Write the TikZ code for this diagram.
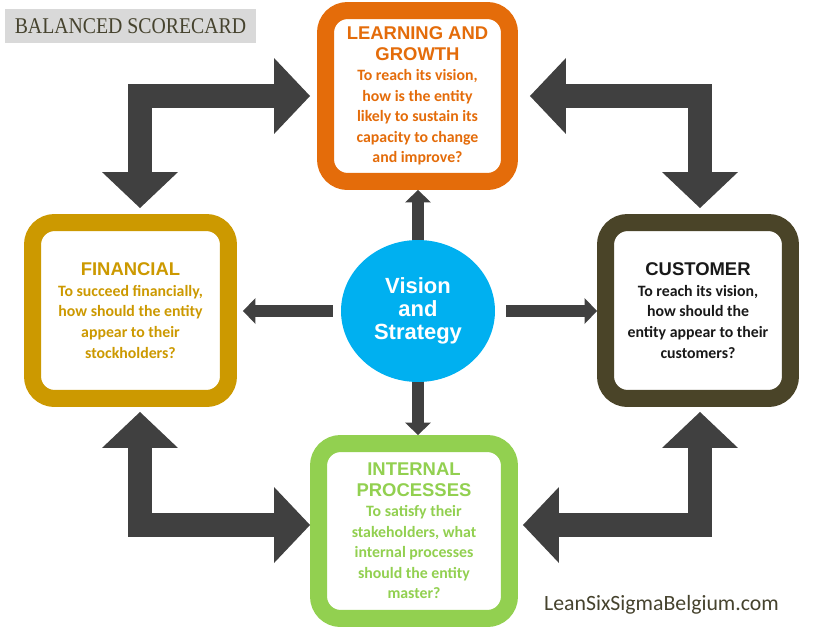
\documentclass[tikz,border=0pt]{standalone}
\usepackage{fontspec}
\newfontfamily\headfont{Liberation Sans}
\newfontfamily\bodyfont{Carlito}
\newfontfamily\bannerfont[FakeStretch=0.88]{Liberation Serif}
\usetikzlibrary{arrows.meta,shapes.geometric}
\definecolor{learnorange}{HTML}{E46C0A}
\definecolor{custolive}{HTML}{4A4428}
\definecolor{fingold}{HTML}{CC9900}
\definecolor{procgreen}{HTML}{92D050}
\definecolor{visblue}{HTML}{00B0F0}
\definecolor{arrowgray}{HTML}{404040}
\definecolor{inkolive}{HTML}{46432E}
\newcommand{\cardhead}[1]{{\headfont\bfseries\fontsize{10.5}{11.7}\selectfont #1}}
\tikzset{
  card/.style={rectangle, draw, line width=0.34cm, rounded corners=0.44cm, align=center, inner sep=0pt,
    font=\bodyfont\bfseries\fontsize{9}{11.7}\selectfont},
  learnc/.style={card, draw=learnorange, text=learnorange, minimum width=3.68cm, minimum height=3.42cm},
  custc/.style={card, draw=custolive, text=black!90, minimum width=3.70cm, minimum height=3.52cm},
  finc/.style={card, draw=fingold, text=fingold, minimum width=3.92cm, minimum height=3.52cm},
  procc/.style={card, draw=procgreen, text=procgreen, minimum width=3.82cm, minimum height=3.50cm},
  vision/.style={ellipse, fill=visblue, text=white, minimum width=3.08cm, minimum height=2.84cm, inner sep=0pt,
    align=center, font=\headfont\bfseries\fontsize{12.5}{13}\selectfont},
  bigarrow/.style={draw=arrowgray, line width=0.48cm,
    {Triangle[length=0.72cm,width=1.52cm,line width=0pt]}-{Triangle[length=0.72cm,width=1.52cm,line width=0pt]}},
  smallarrow/.style={draw=arrowgray, line width=0.24cm, -{Triangle[length=0.25cm,width=0.52cm,line width=0pt]}},
  banner/.style={fill=black!15, text=inkolive, minimum width=5.02cm, minimum height=0.68cm, inner sep=0pt,
    font=\bannerfont\fontsize{12.8}{14}\selectfont},
  credit/.style={text=inkolive, inner sep=0pt, font=\bodyfont\fontsize{12.4}{14}\selectfont}
}
\begin{document}
\begin{tikzpicture}[x=0.02cm, y=-0.02cm]
  \fill[white] (0,0) rectangle (840,633);
  \useasboundingbox (0,0) rectangle (840,633);
  % title and source
  \node[banner] (banner) at (130.5,26) {BALANCED SCORECARD};
  \node[credit, anchor=base] (site) at (661.5,610) {LeanSixSigmaBelgium.com};
  % the four perspectives
  \node[learnc] (learn) at (417.5,96) {\cardhead{LEARNING AND}\\\cardhead{GROWTH}\\To reach its vision,\\how is the entity\\likely to sustain its\\capacity to change\\and improve?};
  \node[finc] (fin) at (130.5,310.5) {\cardhead{FINANCIAL}\\To succeed financially,\\how should the entity\\appear to their\\stockholders?};
  \node[custc] (cust) at (698,310.5) {\cardhead{CUSTOMER}\\To reach its vision,\\how should the\\entity appear to their\\customers?};
  \node[procc] (intl) at (414,531) {\cardhead{INTERNAL}\\\cardhead{PROCESSES}\\To satisfy their\\stakeholders, what\\internal processes\\should the entity\\master?};
  \node[vision] (vis) at (418,311) {Vision\\and\\Strategy};
  % from the centre
  \draw[smallarrow] (vis.north) -- (vis.north |- learn.south);
  \draw[smallarrow] (vis.south) -- (vis.south |- intl.north);
  \draw[smallarrow, shorten <=0.16cm, shorten >=0.12cm] (vis.west) -- (vis.west -| fin.east);
  \draw[smallarrow, shorten <=0.22cm] (vis.east) -- (vis.east -| cust.west);
  % the cycle round
  \draw[bigarrow, shorten <=0.12cm, shorten >=0.14cm] ([xshift=0.19cm]fin.north) |- (learn.west);
  \draw[bigarrow, shorten <=0.24cm, shorten >=0.12cm] (learn.east) -| ([xshift=0.04cm]cust.north);
  \draw[bigarrow, shorten <=0.1cm] ([xshift=0.19cm]fin.south) |- ([yshift=0.12cm]intl.west);
  \draw[bigarrow, shorten <=0.1cm, shorten >=0.1cm] ([xshift=0.04cm]cust.south) |- ([yshift=0.12cm]intl.east);
\end{tikzpicture}
\end{document}
